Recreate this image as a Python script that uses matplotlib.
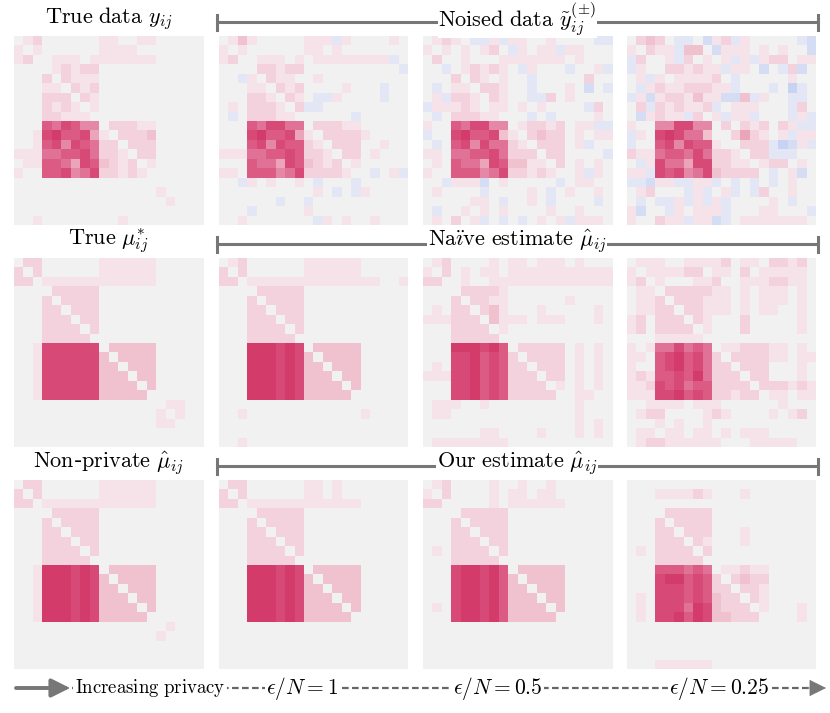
import numpy as np
import matplotlib
matplotlib.use("Agg")
import matplotlib.pyplot as plt
from matplotlib.colors import LinearSegmentedColormap

plt.rcParams['mathtext.fontset'] = 'cm'

# cell codes: '.' = 0, '1'..'9' = positive level, 'a','b','c' = -1,-2,-3
true_y = [
    ".12......11..11.....",
    "1.1......1111.......",
    "12..111.1111111.....",
    "....12122...........",
    "...2.2111...........",
    "...11.212...........",
    "...222.21...........",
    "...2121.1...........",
    "...22111............",
    "...768755.22211.....",
    "..18977841.2223.....",
    "..178587622.222.....",
    "111667786221.22.....",
    ".117764873212.1.....",
    "1..77856822121......",
    "....................",
    "...............1....",
    "................1...",
    "....................",
    "..1........1........",
]

true_mu = [
    ".22......111111.....",
    "2.2......111111.....",
    "22.111111111111.....",
    "....22222...........",
    "...2.2222...........",
    "...22.222...........",
    "...222.22...........",
    "...2222.2...........",
    "...22222............",
    "..1888888.33333.....",
    "..18888883.3333.....",
    "..188888833.333.....",
    "..1888888333.33.....",
    "..18888883333.3.....",
    "..188888833333......",
    "................11..",
    "...............1.1..",
    "...............11...",
    "....................",
    "....................",
]

noised_1 = [
    ".131.....111a1....1.",
    "1.1......11.1.......",
    "12..111.1.11111111a.",
    "....22122..........a",
    "..a1.211..1.........",
    "...11.212....1...a..",
    "...221.21.aa1....a..",
    ".1.2221.2aa.........",
    ".a.22211......a.....",
    "...768866.22211.....",
    "...8977841.22221....",
    "...78587721.222..1..",
    "111667787221.22.1...",
    "...7664873212.1.....",
    "11.77756822221..a.1a",
    "..a1.1..1.a...a.....",
    "..........1.a.a1....",
    "......a..a..........",
    "...a.....1..........",
    "..1.......a1.1..1...",
]

noised_05 = [
    ".121.aa1a11..1....aa",
    "1.1.1.12.a1.11a11...",
    ".2..1...1111111.1...",
    "..a.12121.a1...a..1a",
    "...2.21.1..a.....2..",
    ".a.11.221..a...1.b.a",
    ".1a221.21..aa2.1....",
    "a11121.11.1.1....a2.",
    ".a.22211...a.a....1.",
    "1..768855.12212.11aa",
    "a..8977831.2322.1.11",
    ".a.78586621.222.1a..",
    "11.667786222.22....a",
    ".1.7664873311.2.1.1.",
    "1..77756822121..1a1.",
    "..a111b.1.....a.11..",
    ".1....a....1.a.1..1.",
    ".....11.a..1.a....a.",
    ".a..1.1.1....1..1...",
    ".1.2.1a.a.a.1.1a111.",
]

noised_025 = [
    ".232.aa.b12a1.....ab",
    "1.211a33.b111.1.1..b",
    "a2..1a2.1.1a1a122.11",
    "a1..221211a11.b.a2b.",
    ".1a1.11112.a.....1..",
    ".a121122211a...a.ca.",
    "a1b1221311bb3a1..aa.",
    ".2a212112a.111...a2.",
    ".b1211a2.1a11a...a1a",
    "1..558855.2.212.21aa",
    "a1.898663..2421.1a11",
    "a..7858771..222acb1a",
    "211677686221.22aaa..",
    ".a18664882211.122.1.",
    "11a87856832222.a.1b.",
    "aab11aa11a.a.a.a.1..",
    ".12...a1a.1a.a2..1..",
    ".a.aa1a1a1a....1.a..",
    "1b..a1.111a...11...a",
    "1..211a11ba.1111111.",
]

naive_1 = [
    ".12......111111.....",
    "2.2......111111.....",
    "22.11111111111111..1",
    "....22222...........",
    "...2.2222...........",
    "...22.222...........",
    "...222.22...........",
    "...2222.2...........",
    "...22222............",
    "...999898.33333.....",
    "...9998983.3333.....",
    "...99989833.333.....",
    "...999898333.33.....",
    "...9998983333.3.....",
    "...99989833333......",
    "....................",
    "..1............1....",
    "....................",
    "....................",
    "..1.................",
]

naive_05 = [
    ".12....1.11.111.1...",
    "1.2.1.11.11111111111",
    "22..1..1111111111111",
    "....22221...........",
    "...2.2211......1....",
    ".1.22.231...1.....1.",
    "111222.3111.111...1.",
    "...2222.1...........",
    "...22222............",
    "...999897.22222.1.1.",
    "...8897872.2222.1.1.",
    ".1.88978722.222.1.1.",
    "111889787222.22.1.1.",
    "...8897872222.1.1.1.",
    "...88978722222..11..",
    ".111..1.........1...",
    ".11.............1...",
    "................1.1.",
    "......11....1...1.1.",
    ".11111111...........",
]

naive_025 = [
    ".111..11112.11.2212.",
    "1.111122.11.2.11111.",
    "12.1...112..1112211.",
    ".11.2222211.1.111.1.",
    ".112.222111.1.111.1.",
    ".1122.22111.1.11..1.",
    "12.222.21...2.....1.",
    "12.2222.1...2.....1.",
    "...11111............",
    "1.1668676.1122211.1.",
    "11.7897862.222211.11",
    "1..78978622.222...1.",
    "121778796222.22...1.",
    "1128786772222.222121",
    "11188978722122.11.11",
    "..1111.111......1...",
    ".122....121....1.12.",
    "...1.1..1...........",
    ".11.11.11.1.111.....",
    ".122111111...11111..",
]

nonprivate = [
    ".22......111111.....",
    "2.2......111111.....",
    "22.111111111111.....",
    "....22222...........",
    "...2.2222...........",
    "...22.222...........",
    "...222.22...........",
    "...2222.2...........",
    "...22222............",
    "..1999898.33333.....",
    "..19998983.3333.....",
    "..199989833.333.....",
    "..1999898333.33.....",
    "..19998983333.3.....",
    "..199989833333......",
    "................1...",
    "...............1....",
    "....................",
    "....................",
    "....................",
]

ours_1 = [
    ".22......11.1.......",
    "2.2......11.1.......",
    "22.111111111111.....",
    "....22222...........",
    "...2.2222...........",
    "...22.222...........",
    "...222.22...........",
    "...2222.2...........",
    "...22222............",
    "...999898.33333.....",
    "...9998983.3333.....",
    "...99989833.333.....",
    "...999898333.33.....",
    "...9998983333.3.....",
    "...99989833333......",
    "....................",
    "....................",
    "....................",
    "....................",
    "....................",
]

ours_05 = [
    ".12....1..1..1......",
    "1.2....1.11.11......",
    "22.....1.111111.....",
    "....22222...........",
    "...2.2222...........",
    "...22.222...........",
    "...222.22...........",
    ".1.2222.2...........",
    "...22222............",
    "...899897.33333.....",
    "...8998973.3333.....",
    "...89989733.333.....",
    "...899897333.33.....",
    ".1.8998973333.3.....",
    "...89989733333......",
    "....................",
    "....................",
    "....................",
    "....................",
    "....................",
]

ours_025 = [
    "....................",
    "...111121...1.......",
    "....................",
    "....22222...........",
    "...2.2222...........",
    "...22.222...1.......",
    "...222.21...1.......",
    ".1.2222.2...........",
    "...22222............",
    "...777676.11211.....",
    "...8997872.2322.....",
    "...88878722.221.....",
    ".1.888787322.21.....",
    ".1.8886983222.1...1.",
    ".1.88979833222....1.",
    "....................",
    "....................",
    "....................",
    "....................",
    "...111111...........",
]

row_titles = [r'$\mathrm{True\ data}\ y_{ij}$',
              r'$\mathrm{True}\ \mu^{*}_{ij}$',
              r'$\mathrm{Non}$-$\mathrm{private}\ \hat{\mu}_{ij}$']
bracket_titles = [r'$\mathrm{Noised\ data}\ \tilde{y}^{(\pm)}_{ij}$',
                  r'$\mathrm{Na\ddot{\imath}ve\ estimate}\ \hat{\mu}_{ij}$',
                  r'$\mathrm{Our\ estimate}\ \hat{\mu}_{ij}$']
eps_labels = [r'$\epsilon/N=1$', r'$\epsilon/N=0.5$', r'$\epsilon/N=0.25$']

panels = [[true_y, noised_1, noised_05, noised_025],
          [true_mu, naive_1, naive_05, naive_025],
          [nonprivate, ours_1, ours_05, ours_025]]

code = {'.': 0, 'a': -1, 'b': -2, 'c': -3}


def to_matrix(rows):
    return np.array([[code[ch] if ch in code else int(ch) for ch in r] for r in rows], dtype=float)


cmap = LinearSegmentedColormap.from_list('privacy', [
    (0.0, '#3b5bd0'), (0.35, '#c9d3f3'), (0.45, '#e3e7f6'), (0.5, '#f2f2f2'),
    (0.55, '#f7e3ea'), (0.6, '#f4d2dd'), (0.65, '#f1c3d1'), (0.75, '#e68aa8'),
    (0.85, '#dc5c86'), (0.9, '#d84a78'), (0.95, '#d33c6b'), (1.0, '#c92d5d')])

W, H = 830, 713
fig = plt.figure(figsize=(8.3, 7.13), dpi=100)

col_x = [14, 218.5, 423, 627]
row_y = [36, 258, 480]
size = 189

for i, row in enumerate(panels):
    for j, mat in enumerate(row):
        ax = fig.add_axes([col_x[j] / W, 1 - (row_y[i] + size) / H, size / W, size / H])
        ax.imshow(to_matrix(mat), cmap=cmap, vmin=-10, vmax=10,
                  interpolation='nearest', aspect='auto')
        ax.set_xticks([])
        ax.set_yticks([])
        for s in ax.spines.values():
            s.set_visible(False)

# overlay in pixel coordinates for titles, brackets and the privacy arrow
ov = fig.add_axes([0, 0, 1, 1], zorder=5)
ov.set_xlim(0, W)
ov.set_ylim(H, 0)
ov.axis('off')
ov.patch.set_alpha(0)

grey = '#777777'
for i in range(3):
    yt = row_y[i] - 17
    yl = yt + 3
    ov.text(col_x[0] + size / 2, yt, row_titles[i], ha='center', va='center', fontsize=16)
    x0, x1 = col_x[1] - 2, col_x[3] + size + 2
    ov.plot([x0, x1], [yl, yl], color=grey, lw=2.2, solid_capstyle='butt')
    ov.plot([x0, x0], [yl - 7.5, yl + 7.5], color=grey, lw=2.2)
    ov.plot([x1, x1], [yl - 7.5, yl + 7.5], color=grey, lw=2.2)
    ov.text((x0 + x1) / 2, yt, bracket_titles[i], ha='center', va='center', fontsize=16,
            bbox=dict(fc='white', ec='none', pad=0.5), zorder=6)

ya = 688
ov.plot([62, 810], [ya, ya], color='#666666', lw=1.6, ls=(0, (3, 1.5)))
ov.annotate('', xy=(70, ya), xytext=(16, ya),
            arrowprops=dict(arrowstyle='-|>,head_length=1.1,head_width=0.55', color=grey,
                            lw=2.8, shrinkA=0, shrinkB=0))
ov.annotate('', xy=(826, ya), xytext=(806, ya),
            arrowprops=dict(arrowstyle='-|>,head_length=1.1,head_width=0.55', color=grey,
                            lw=0.5, shrinkA=0, shrinkB=0))
ov.text(150, ya, r'$\mathrm{Increasing\ privacy}$', ha='center', va='center', fontsize=13.5,
        bbox=dict(fc='white', ec='none', pad=1.0), zorder=6)
for xc, lab in zip([302, 498, 719], eps_labels):
    ov.text(xc, ya, lab, ha='center', va='center', fontsize=15.5,
            bbox=dict(fc='white', ec='none', pad=1.0), zorder=6)

fig.savefig('out.png', dpi=100, facecolor='white')
